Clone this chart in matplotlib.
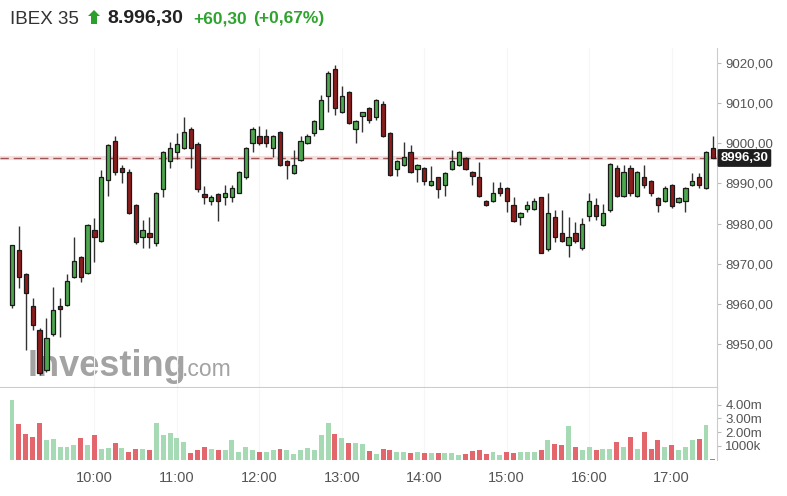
import numpy as np
import matplotlib
matplotlib.use("Agg")
import matplotlib.pyplot as plt
from matplotlib.patches import Polygon

plt.rcParams['font.family'] = ['Liberation Sans', 'DejaVu Sans']

# 5-minute candles, 09:00 .. 17:30
opens = [8959.8, 8973.4, 8967.5, 8959.6, 8953.6, 8943.7, 8952.6, 8959.6, 8959.8, 8966.7,
         8971.6, 8967.8, 8978.4, 8975.8, 8990.8, 9000.6, 8993.7, 8992.9, 8984.6, 8976.7,
         8977.6, 8975.3, 8988.5, 8995.5, 8997.7, 8998.7, 9003.6, 8999.7, 8987.3, 8985.6,
         8987.3, 8986.7, 8986.7, 8987.7, 8991.6, 8999.9, 9001.7, 9001.7, 8998.7, 9002.8,
         8995.5, 8992.6, 8995.8, 8999.9, 9002.6, 9003.6, 9011.7, 9018.5, 9007.6, 9012.6,
         9003.5, 9006.7, 9008.6, 9006.5, 9009.6, 9002.6, 8993.5, 8994.5, 8997.7, 8993.5,
         8993.7, 8989.6, 8991.5, 8989.6, 8993.5, 8994.5, 8996.4, 8992.9, 8991.5, 8985.6,
         8985.6, 8988.8, 8988.8, 8984.6, 8981.7, 8983.6, 8983.6, 8986.5, 8973.6, 8981.6,
         8977.6, 8974.7, 8977.6, 8973.9, 8981.9, 8984.6, 8979.7, 8983.4, 8993.7, 8986.8,
         8993.7, 8986.8, 8991.5, 8990.6, 8986.4, 8985.6, 8989.6, 8985.4, 8985.6, 8989.6,
         8991.5, 8988.8, 8998.7]
highs = [8974.7, 8979.4, 8967.8, 8961.6, 8954.0, 8956.6, 8964.3, 8961.6, 8967.5, 8976.6,
         8972.0, 8980.0, 8981.5, 8993.3, 8999.7, 9001.7, 8994.5, 8993.5, 8985.0, 8980.9,
         8981.6, 8987.8, 8998.0, 9000.3, 9002.4, 9006.5, 9004.0, 9000.3, 8989.4, 8987.1,
         8987.5, 8989.6, 8989.6, 8993.0, 8999.0, 9004.0, 9004.3, 9003.4, 9002.0, 9003.0,
         8995.7, 8998.4, 9001.7, 9002.2, 9005.7, 9011.9, 9017.8, 9019.4, 9014.1, 9013.0,
         9005.7, 9007.8, 9009.0, 9011.0, 9010.5, 9002.8, 8995.8, 9000.3, 8999.5, 8994.7,
         8994.0, 8994.3, 8991.7, 8992.8, 8998.4, 8998.0, 8996.6, 8993.0, 8995.4, 8985.8,
         8990.4, 8990.4, 8989.0, 8986.7, 8982.8, 8985.6, 8986.3, 8986.7, 8987.5, 8983.5,
         8983.5, 8981.6, 8980.5, 8981.3, 8987.5, 8986.3, 8985.0, 8995.0, 8994.5, 8994.5,
         8994.5, 8993.0, 8994.5, 8990.8, 8986.6, 8989.3, 8989.8, 8986.6, 8989.0, 8992.6,
         8992.6, 8998.0, 9001.7]
lows = [8959.0, 8964.0, 8948.6, 8953.6, 8942.4, 8943.2, 8952.2, 8951.9, 8959.5, 8966.4,
        8965.6, 8967.5, 8970.5, 8975.5, 8986.8, 8992.0, 8990.0, 8982.5, 8975.0, 8973.9,
        8973.9, 8974.5, 8986.7, 8993.7, 8996.0, 8998.5, 8993.7, 8987.9, 8984.9, 8984.6,
        8980.7, 8984.6, 8985.4, 8987.5, 8991.0, 8997.8, 8999.5, 8999.1, 8996.6, 8994.3,
        8991.2, 8992.4, 8995.6, 8999.8, 9001.7, 9003.5, 9007.6, 9006.9, 9007.5, 9004.7,
        9000.1, 9002.8, 9004.9, 9005.7, 9001.5, 8991.8, 8991.8, 8994.3, 8992.5, 8990.4,
        8989.6, 8989.4, 8986.3, 8986.8, 8993.3, 8994.3, 8993.3, 8989.6, 8986.6, 8984.4,
        8985.4, 8986.8, 8983.0, 8980.4, 8979.7, 8983.0, 8983.4, 8972.6, 8973.3, 8975.5,
        8975.5, 8971.8, 8975.1, 8973.4, 8980.7, 8980.9, 8979.5, 8983.0, 8986.6, 8986.6,
        8986.8, 8986.6, 8988.8, 8986.8, 8983.0, 8985.4, 8983.8, 8985.1, 8983.0, 8989.4,
        8988.8, 8988.5, 8996.2]
closes = [8974.7, 8966.7, 8962.7, 8954.8, 8942.9, 8951.5, 8958.6, 8958.7, 8965.7, 8970.7,
          8966.7, 8979.7, 8976.7, 8991.5, 8999.5, 8992.7, 8992.7, 8982.7, 8975.5, 8978.4,
          8976.7, 8987.5, 8997.8, 8998.7, 8999.7, 9002.7, 8998.7, 8988.5, 8986.7, 8986.5,
          8985.6, 8987.5, 8988.8, 8992.9, 8998.7, 9003.6, 8999.9, 8999.9, 9001.7, 8994.5,
          8994.5, 8994.5, 9000.5, 9001.7, 9005.5, 9010.7, 9017.5, 9008.8, 9011.7, 9004.9,
          9005.5, 9007.6, 9005.7, 9010.7, 9001.7, 8992.1, 8995.5, 8996.5, 8992.7, 8994.5,
          8990.6, 8990.6, 8988.5, 8992.6, 8995.5, 8997.7, 8993.5, 8991.8, 8986.8, 8984.6,
          8987.5, 8987.7, 8985.6, 8980.6, 8982.6, 8984.6, 8985.6, 8972.8, 8982.6, 8976.6,
          8975.7, 8976.6, 8975.7, 8979.8, 8985.6, 8981.9, 8982.6, 8994.7, 8986.8, 8992.9,
          8987.7, 8992.7, 8989.6, 8987.7, 8984.6, 8988.8, 8984.4, 8986.4, 8988.8, 8990.6,
          8989.6, 8997.7, 8996.3]
# volume in millions, and colour of the volume bar (1 = up / green)
volume = [4.33, 2.58, 1.85, 1.65, 2.68, 1.46, 1.53, 0.93, 0.93, 1.05,
          1.58, 1.05, 1.78, 0.80, 0.85, 1.24, 0.85, 0.56, 0.75, 0.75,
          0.68, 2.70, 1.78, 1.95, 1.58, 1.29, 0.49, 0.68, 0.93, 0.75,
          0.68, 0.68, 1.41, 0.56, 0.93, 0.68, 0.56, 0.56, 0.73, 0.75,
          0.68, 0.39, 0.68, 0.85, 0.68, 1.78, 2.70, 1.85, 1.58, 1.24,
          1.24, 1.12, 0.61, 0.39, 0.75, 0.68, 0.56, 0.56, 0.49, 0.56,
          0.49, 0.49, 0.49, 0.49, 0.49, 0.31, 0.39, 0.61, 0.68, 0.39,
          0.56, 0.31, 0.56, 0.49, 0.56, 0.56, 0.56, 0.73, 1.46, 1.12,
          1.05, 2.41, 0.93, 0.73, 0.93, 0.73, 0.80, 0.80, 1.29, 0.93,
          1.65, 0.80, 2.04, 0.80, 1.46, 0.93, 1.05, 0.73, 0.93, 1.46,
          1.53, 2.53, 0.05]
vol_up = [1, 0, 0, 0, 0, 1, 1, 1, 1, 1, 0, 1, 0, 1, 1, 0, 1, 0, 0, 1,
          0, 1, 1, 1, 1, 1, 0, 0, 0, 1, 0, 1, 1, 1, 1, 1, 0, 1, 1, 0,
          1, 1, 1, 1, 1, 1, 1, 0, 1, 0, 1, 1, 0, 1, 0, 0, 1, 1, 0, 1,
          0, 1, 0, 1, 1, 1, 0, 0, 0, 0, 1, 1, 0, 0, 1, 1, 1, 0, 1, 0,
          0, 1, 0, 1, 1, 0, 1, 1, 0, 1, 0, 1, 0, 0, 0, 1, 0, 1, 1, 1,
          0, 1, 0]
price_ticks = [8950, 8960, 8970, 8980, 8990, 9000, 9010, 9020]
vol_ticks = [1, 2, 3, 4]
vol_labels = ['1000k', '2.00m', '3.00m', '4.00m']
hour_labels = ['10:00', '11:00', '12:00', '13:00', '14:00', '15:00', '16:00', '17:00']
last_price = 8996.30

W, H = 787, 496
fig = plt.figure(figsize=(W / 100, H / 100), dpi=100)
fig.patch.set_facecolor('white')

def frac(x0, y_top, x1, y_bot):
    return [x0 / W, 1 - y_bot / H, (x1 - x0) / W, (y_bot - y_top) / H]

ax = fig.add_axes(frac(0, 48, 717, 387))
axv = fig.add_axes(frac(0, 388, 717, 459.5), sharex=ax)

o = np.array(opens); c = np.array(closes)
hi = np.array(highs); lo = np.array(lows)
x = np.arange(len(o))
up = c >= o
grey_txt = '#555555'

# watermark, behind the candles
ax.text(28 / W, 1 - 366 / H, 'Investing', fontsize=26, fontweight='bold',
        color='#a3a3a3', va='center', ha='left', transform=fig.transFigure,
        zorder=0.5)
ax.text(182 / W, 1 - 369 / H, '.com', fontsize=16.5, color='#a3a3a3',
        va='center', ha='left', transform=fig.transFigure, zorder=0.5)

# candles
ax.vlines(x, lo, hi, color='#333333', lw=1, zorder=2)
body_lo = np.minimum(o, c)
body_h = np.maximum(np.abs(c - o), 0.4)
ax.bar(x, body_h, bottom=body_lo, width=0.62,
       color=np.where(up, '#4da74d', '#8e1c1c'), edgecolor='#1a1a1a',
       linewidth=0.9, zorder=3)

# last price line
ax.axhline(last_price, color='#f6dede', lw=3, zorder=1)
ax.axhline(last_price, color='#9c5555', lw=1, dashes=(6, 3.5), zorder=1.5)

ax.set_xlim(-1.75, 102.6)
ax.set_ylim(8939.45, 9023.6)
ax.yaxis.tick_right()
ax.set_yticks(price_ticks)
ax.set_yticklabels([f'{p:.2f}'.replace('.', ',') for p in price_ticks])
ax.tick_params(axis='y', length=3, width=0.8, color='#bbbbbb', pad=3,
               labelsize=9.5, labelcolor=grey_txt)
ax.tick_params(axis='x', length=0, labelbottom=False)
for s in ['top', 'left']:
    ax.spines[s].set_visible(False)
ax.spines['right'].set_color('#cccccc')
ax.spines['bottom'].set_color('#cccccc')
ax.grid(True, axis='x', color='#f6f6f6', lw=0.8, zorder=0)
ax.set_axisbelow(True)

# price tag
ax.annotate('8996,30', xy=(1.0, last_price), xycoords=('axes fraction', 'data'),
            xytext=(2.5, 0), textcoords='offset points', ha='left', va='center',
            fontsize=9.5, fontweight='bold', color='white',
            bbox=dict(boxstyle='round,pad=0.22,rounding_size=0.1',
                      fc='#1e1e1e', ec='none'), annotation_clip=False)

# volume
vcol = ['#a6dab5' if u else '#e2666b' for u in vol_up]
axv.bar(x, volume, width=0.72, color=vcol, zorder=2)
axv.set_ylim(0, 5.22)
axv.yaxis.tick_right()
axv.set_yticks(vol_ticks)
axv.set_yticklabels(vol_labels)
axv.tick_params(axis='y', length=3, width=0.8, color='#bbbbbb', pad=3,
                labelsize=9.5, labelcolor=grey_txt)
hour_pos = [12 * (i + 1) for i in range(len(hour_labels))]
axv.set_xticks(hour_pos)
axv.set_xticklabels(hour_labels)
axv.tick_params(axis='x', length=0, pad=8, labelsize=10.5, labelcolor=grey_txt)
for s in ['top', 'left', 'bottom']:
    axv.spines[s].set_visible(False)
axv.spines['right'].set_color('#cccccc')
axv.grid(True, axis='x', color='#f6f6f6', lw=0.8, zorder=0)
axv.set_axisbelow(True)

# header
fig.text(10 / W, 1 - 19 / H, 'IBEX 35', fontsize=13.5, color='#333333',
         va='center', ha='left')
arrow_px = [[94, 10], [100, 16], [97, 16], [97, 24], [91, 24], [91, 16], [88, 16]]
arrow = Polygon([[px / W, 1 - py / H] for px, py in arrow_px], closed=True,
                transform=fig.transFigure, facecolor='#2ca02c', edgecolor='none')
fig.patches.append(arrow)
fig.text(107 / W, 1 - 19 / H, '8.996,30', fontsize=14, fontweight='bold',
         color='#222222', va='center', ha='left')
fig.text(193 / W, 1 - 19 / H, '+60,30', fontsize=12.5, fontweight='bold',
         color='#2ea32e', va='center', ha='left')
fig.text(253 / W, 1 - 19 / H, '(+0,67%)', fontsize=12.5, fontweight='bold',
         color='#2ea32e', va='center', ha='left')

fig.savefig('out.png', dpi=100, facecolor='white')
